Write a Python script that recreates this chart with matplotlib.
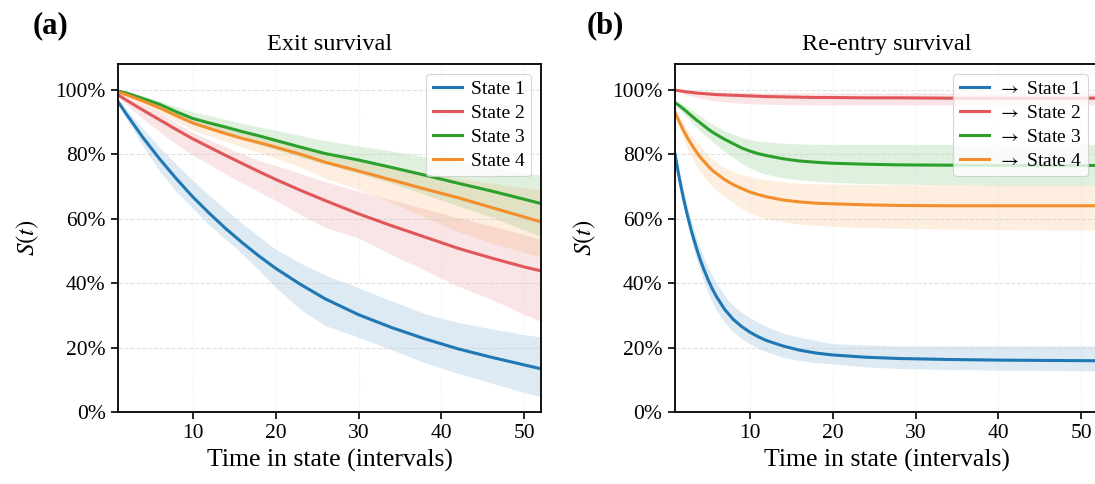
import matplotlib
matplotlib.use("Agg")
import matplotlib.pyplot as plt
from matplotlib.ticker import PercentFormatter

plt.rcParams['font.family'] = ['Liberation Serif', 'DejaVu Serif']
plt.rcParams['mathtext.fontset'] = 'stix'

# ---------------- data ----------------
t_exit = [1, 2, 4, 6, 8, 10, 12, 14, 16, 18, 20, 23, 26, 30, 34, 38, 42, 46, 50, 52]

exit_s1 = [.963, .925, .852, .786, .725, .668, .617, .569, .525, .484, .446, .396, .351, .302, .262, .227, .196, .170, .146, .134]
exit_s1_hi = [.970, .940, .880, .822, .770, .720, .672, .628, .585, .545, .505, .462, .425, .385, .345, .305, .278, .258, .240, .233]
exit_s1_lo = [.955, .910, .825, .748, .685, .633, .580, .535, .490, .440, .387, .318, .268, .232, .193, .153, .120, .090, .060, .047]

exit_s2 = [.984, .968, .937, .907, .877, .848, .822, .796, .771, .746, .722, .688, .656, .615, .578, .543, .508, .478, .450, .438]
exit_s2_hi = [.990, .980, .955, .930, .897, .868, .845, .822, .800, .780, .765, .740, .715, .685, .658, .630, .603, .578, .550, .535]
exit_s2_lo = [.978, .955, .910, .870, .832, .797, .768, .738, .710, .683, .657, .613, .572, .540, .488, .440, .390, .350, .303, .280]

exit_s3 = [.996, .990, .973, .955, .932, .911, .897, .884, .870, .857, .843, .822, .802, .782, .759, .735, .710, .686, .660, .647]
exit_s3_hi = [.998, .995, .980, .965, .948, .932, .920, .908, .896, .885, .875, .858, .842, .826, .810, .792, .776, .760, .742, .735]
exit_s3_lo = [.994, .985, .965, .942, .920, .895, .878, .862, .845, .830, .815, .790, .770, .740, .710, .675, .640, .605, .565, .545]

exit_s4 = [.993, .985, .965, .944, .920, .897, .880, .864, .849, .836, .822, .800, .775, .748, .720, .692, .665, .635, .605, .590]
exit_s4_hi = [.995, .990, .975, .955, .932, .912, .897, .882, .867, .853, .840, .820, .800, .780, .762, .742, .725, .710, .695, .688]
exit_s4_lo = [.990, .980, .955, .930, .902, .875, .857, .840, .822, .805, .788, .760, .725, .690, .650, .605, .560, .525, .495, .481]

t_re = [1, 1.5, 2, 2.5, 3, 3.5, 4, 4.5, 5, 5.5, 6, 7, 8, 9, 10, 11, 12,
        14, 16, 18, 20, 24, 28, 34, 40, 46, 52]

re_s1 = [.800, .728, .665, .610, .560, .516, .476, .441, .410, .382, .358, .318, .288, .266, .248, .234, .222,
         .205, .192, .183, .177, .170, .166, .163, .161, .160, .159]
re_s1_hi = [.810, .748, .690, .638, .590, .548, .510, .478, .450, .423, .400, .360, .330, .310, .293, .278, .265,
            .245, .232, .222, .212, .208, .205, .205, .205, .205, .205]
re_s1_lo = [.790, .710, .640, .583, .530, .483, .440, .403, .370, .341, .315, .278, .249, .228, .212, .198, .187,
            .170, .160, .153, .149, .140, .135, .132, .130, .129, .128]

re_s2 = [.999, .997, .995, .993, .992, .990, .989, .988, .987, .986, .985, .984, .983, .982, .981, .980, .979,
         .978, .977, .976, .976, .975, .975, .974, .974, .974, .974]
re_s2_hi = [1.0, 1.0, .999, .998, .997, .996, .996, .995, .995, .994, .994, .993, .993, .992, .992, .991, .991,
            .991, .990, .990, .990, .990, .990, .990, .990, .990, .990]
re_s2_lo = [.997, .993, .988, .984, .980, .977, .974, .971, .969, .967, .965, .962, .960, .958, .957, .956, .955,
            .954, .954, .953, .953, .953, .953, .953, .953, .953, .953]

re_s3 = [.960, .951, .941, .930, .919, .908, .898, .888, .878, .869, .861, .846, .833, .820, .810, .802, .796,
         .786, .779, .775, .772, .769, .767, .766, .765, .765, .765]
re_s3_hi = [.965, .961, .955, .947, .938, .929, .920, .911, .902, .894, .886, .873, .862, .853, .846, .841, .838,
            .834, .832, .831, .830, .830, .830, .830, .830, .830, .830]
re_s3_lo = [.955, .941, .927, .913, .899, .885, .873, .861, .850, .839, .829, .808, .790, .772, .757, .746, .738,
            .727, .720, .716, .713, .709, .707, .705, .704, .704, .704]

re_s4 = [.930, .902, .875, .851, .830, .810, .792, .778, .763, .750, .740, .721, .706, .694, .683, .675, .668,
         .658, .652, .648, .646, .643, .641, .640, .640, .640, .640]
re_s4_hi = [.935, .915, .895, .875, .857, .840, .825, .810, .797, .785, .775, .758, .746, .737, .730, .725, .720,
            .714, .710, .708, .707, .706, .705, .705, .705, .705, .705]
re_s4_lo = [.925, .882, .848, .818, .792, .768, .748, .730, .714, .700, .688, .667, .650, .632, .618, .608, .600,
            .590, .583, .579, .576, .572, .570, .568, .566, .565, .565]

exit_labels = ["State 1", "State 2", "State 3", "State 4"]
re_labels = [r"$\rightarrow$ State 1", r"$\rightarrow$ State 2", r"$\rightarrow$ State 3", r"$\rightarrow$ State 4"]
colors = ['#1f77b4', '#e15759', '#2ca02c', '#f28e2b']

exit_series = [(exit_s1, exit_s1_lo, exit_s1_hi), (exit_s2, exit_s2_lo, exit_s2_hi),
               (exit_s3, exit_s3_lo, exit_s3_hi), (exit_s4, exit_s4_lo, exit_s4_hi)]
re_series = [(re_s1, re_s1_lo, re_s1_hi), (re_s2, re_s2_lo, re_s2_hi),
             (re_s3, re_s3_lo, re_s3_hi), (re_s4, re_s4_lo, re_s4_hi)]

# ---------------- figure ----------------
W, H = 1095, 484
fig = plt.figure(figsize=(W / 100, H / 100), dpi=100)
ax_a = fig.add_axes([118 / W, 1 - 412 / H, 423 / W, 348 / H])
ax_b = fig.add_axes([675 / W, 1 - 412 / H, 423 / W, 348 / H])


def style(ax, t, series, labels, title):
    for (m, lo, hi), c, lab in zip(series, colors, labels):
        ax.fill_between(t, lo, hi, color=c, alpha=0.15, linewidth=0)
        ax.plot(t, m, color=c, lw=2.2, label=lab)
    ax.set_xlim(1, 52)
    ax.set_ylim(0, 1.08)
    ax.set_xticks([10, 20, 30, 40, 50])
    ax.set_yticks([0, 0.2, 0.4, 0.6, 0.8, 1.0])
    ax.yaxis.set_major_formatter(PercentFormatter(1.0, decimals=0))
    ax.tick_params(labelsize=15.5, length=5, width=1.2, direction='out', colors='black', pad=4)
    ax.grid(axis='y', linestyle='--', color='#cccccc', alpha=0.6, lw=0.8)
    ax.grid(axis='x', linestyle=':', color='#dddddd', alpha=0.6, lw=0.8)
    for sp in ax.spines.values():
        sp.set_linewidth(1.3)
        sp.set_color('black')
    ax.set_xlabel("Time in state (intervals)", fontsize=18.5, labelpad=4)
    ax.set_ylabel(r"$S(t)$", fontsize=18, labelpad=10)
    ax.set_title(title, fontsize=17.5, pad=10)
    leg = ax.legend(loc='upper right', fontsize=14, frameon=True, framealpha=0.8,
                    edgecolor='#cccccc', handlelength=1.5, borderpad=0.35,
                    labelspacing=0.32, handletextpad=0.45, borderaxespad=0.5)
    leg.get_frame().set_linewidth(0.8)


style(ax_a, t_exit, exit_series, exit_labels, "Exit survival")
style(ax_b, t_re, re_series, re_labels, "Re-entry survival")

fig.text(50 / W, 1 - 26 / H, "(a)", fontsize=22, fontweight='bold', ha='center', va='center')
fig.text(605 / W, 1 - 26 / H, "(b)", fontsize=22, fontweight='bold', ha='center', va='center')

fig.savefig("out.png", dpi=100)
